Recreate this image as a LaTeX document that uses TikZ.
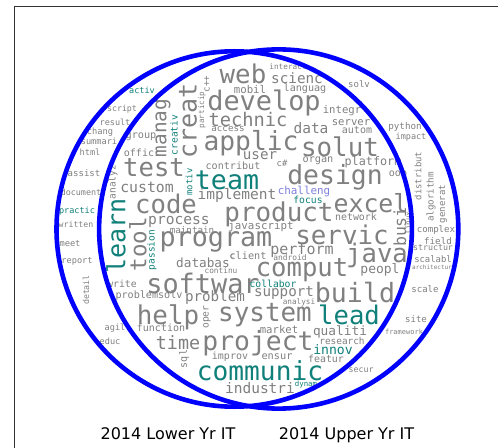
\documentclass[tikz,border=0pt]{standalone}
\usepackage{fontspec}
\setmainfont{DejaVu Sans}
\newfontfamily\wmono{DejaVu Sans Mono}
\definecolor{wgray}{RGB}{128,128,128}
\definecolor{wteal}{RGB}{16,128,122}
\definecolor{wpurp}{RGB}{128,128,222}
\definecolor{vblue}{RGB}{0,0,255}
\tikzset{
  wg/.style={inner sep=0pt, text=wgray, font={\wmono\fontsize{#1bp}{#1bp}\selectfont}},
  wt/.style={wg=#1, text=wteal},
  wp/.style={wg=#1, text=wpurp},
  vert/.style={rotate=90},
  venn/.style={draw=vblue, line width=4.6bp},
  setlabel/.style={inner sep=0pt, anchor=base, font={\fontsize{16bp}{16bp}\selectfont}}
}
\begin{document}
\begin{tikzpicture}[x=1bp,y=-1bp]
\useasboundingbox (0,0) rectangle (498,448);
\fill[white] (0,0) rectangle (498,448);
\draw[line width=1bp, black!80] (14,448) -- (14,7) -- (498,7);
% word cloud
\node[wg=25.8] (w-web) at (243,74) {web};
\node[wg=14.3] (w-scienc) at (297,78) {scienc};
\node[wg=7.7] (w-interact) at (288,67) {interact};
\node[wg=10.7] (w-mobil) at (250,89) {mobil};
\node[wg=10.1] (w-languag) at (305,89) {languag};
\node[wg=9] (w-solv) at (359,84) {solv};
\node[wg=26.9] (w-develop) at (264,103) {develop};
\node[wg=10.6] (w-integr) at (342,111) {integr};
\node[wg=18.7] (w-technic) at (248,120) {technic};
\node[wg=9.2] (w-access) at (228,129) {access};
\node[wg=14.5] (w-data) at (311,128) {data};
\node[wg=10.6] (w-server) at (351,123) {server};
\node[wg=10] (w-autom) at (357,130) {autom};
\node[wg=9.2] (w-python) at (405,127) {python};
\node[wg=8.5] (w-impact) at (411,137) {impact};
\node[wg=26.3] (w-applic) at (251,143) {applic};
\node[wg=25.8] (w-solut) at (340,147) {solut};
\node[wg=14.2] (w-user) at (260,156) {user};
\node[wg=8.9] (w-csharp) at (282,163) {c\#};
\node[wg=10.2] (w-organ) at (318,161) {organ};
\node[wg=11.8] (w-platform) at (373,162) {platform};
\node[wg=10.1] (w-contribut) at (233,166) {contribut};
\node[wg=25.6] (w-test) at (154,168) {test};
\node[wt=26.6] (w-team) at (227,180) {team};
\node[wg=26.4] (w-design) at (335,177) {design};
\node[wg=10] (w-oop) at (398,175) {oop};
\node[wg=8.9,vert] (w-distribut) at (418,176) {distribut};
\node[wg=9.2,vert] (w-algorithm) at (431,197) {algorithm};
\node[wg=9.1,vert] (w-generat) at (443,204) {generat};
\node[wg=14.8] (w-custom) at (147,187) {custom};
\node[wg=14.5] (w-implement) at (237,195) {implement};
\node[wp=10.9] (w-challeng) at (304,192) {challeng};
\node[wt=9.7] (w-focus) at (308,200) {focus};
\node[wg=25.6] (w-code) at (166,204) {code};
\node[wg=24.9] (w-excel) at (371,203) {excel};
\node[wg=25.9] (w-product) at (279,214) {product};
\node[wg=9.9] (w-network) at (356,217) {network};
\node[wg=16.6,vert] (w-busi) at (400,227) {busi};
\node[wg=7.7,vert] (w-linux) at (408,223) {linux};
\node[wg=9.1] (w-complex) at (436,230) {complex};
\node[wg=9.2] (w-field) at (438,241) {field};
\node[wg=8.3] (w-structur) at (433,248) {structur};
\node[wg=8.9] (w-scalabl) at (433,259) {scalabl};
\node[wg=6] (w-architectur) at (432,267) {architectur};
\node[wg=9.1] (w-scale) at (425,289) {scale};
\node[wg=9] (w-site) at (416,319) {site};
\node[wg=7] (w-framework) at (404,332) {framework};
\node[wg=8.3] (w-secur) at (361,370) {secur};
\node[wg=14.6] (w-process) at (179,222) {process};
\node[wg=9.2] (w-maintain) at (192,230) {maintain};
\node[wg=10.8] (w-javascript) at (261,227) {javascript};
\node[wg=25.8] (w-servic) at (342,235) {servic};
\node[wt=25,vert] (w-learn) at (116,236) {learn};
\node[wg=22.5,vert] (w-tool) at (138,244) {tool};
\node[wt=9.5,vert] (w-passion) at (152,250) {passion};
\node[wt=8.9,vert] (w-motiv) at (189,182) {motiv};
\node[wt=9.5,vert] (w-creativ) at (174,135) {creativ};
\node[wg=19.4,vert] (w-manag) at (163,128) {manag};
\node[wg=25,vert] (w-creat) at (188,121) {creat};
\node[wg=7.6,vert] (w-particip) at (202,110) {particip};
\node[wg=9.2,vert] (w-cpp) at (207,84) {c++};
\node[wg=9.5,vert] (w-analyz) at (113,182) {analyz};
\node[wg=26.7] (w-program) at (216,242) {program};
\node[wg=15] (w-perform) at (302,250) {perform};
\node[wg=25.6] (w-java) at (377,255) {java};
\node[wg=10.2] (w-client) at (248,256) {client};
\node[wg=7.9] (w-android) at (290,258) {android};
\node[wg=12.7] (w-databas) at (203,263) {databas};
\node[wg=7] (w-c) at (232,257) {c};
\node[wg=7.8] (w-continu) at (221,271) {continu};
\node[wg=25.6] (w-comput) at (302,270) {comput};
\node[wg=13] (w-peopl) at (380,270) {peopl};
\node[wg=26.9] (w-softwar) at (203,283) {softwar};
\node[wt=9.7] (w-collabor) at (273,284) {collabor};
\node[wg=26.6] (w-build) at (355,293) {build};
\node[wg=9.8] (w-write) at (122,284) {write};
\node[wg=8.3,vert] (w-detail) at (86,290) {detail};
\node[wg=10.1] (w-problemsolv) at (149,296) {problemsolv};
\node[wg=14.2] (w-problem) at (215,298) {problem};
\node[wg=14.2] (w-support) at (284,293) {support};
\node[wg=7.7] (w-analysi) at (299,302) {analysi};
\node[wg=25.9] (w-help) at (168,317) {help};
\node[wg=9.6,vert] (w-oper) at (207,317) {oper};
\node[wg=25.9] (w-system) at (265,315) {system};
\node[wt=25.6] (w-lead) at (349,315) {lead};
\node[wg=8.6] (w-agil) at (115,328) {agil};
\node[wg=10] (w-function) at (161,328) {function};
\node[wg=10.6] (w-market) at (279,330) {market};
\node[wg=12.8] (w-qualiti) at (340,332) {qualiti};
\node[wg=9.4] (w-research) at (342,341) {research};
\node[wg=8.6] (w-educ) at (110,341) {educ};
\node[wg=18.4] (w-time) at (178,343) {time};
\node[wg=26.4] (w-project) at (258,343) {project};
\node[wt=13.1] (w-innov) at (333,350) {innov};
\node[wg=10,vert] (w-sql) at (184,359) {sql};
\node[wg=10] (w-improv) at (230,357) {improv};
\node[wg=10.3] (w-ensur) at (277,357) {ensur};
\node[wg=9.9] (w-featur) at (326,359) {featur};
\node[wt=26.2] (w-communic) at (260,371) {communic};
\node[wg=14.5] (w-industri) at (260,388) {industri};
\node[wt=7.4] (w-dynam) at (306,384) {dynam};
\node[wt=8.5] (w-activ) at (142,90) {activ};
\node[wg=8.3] (w-script) at (122,109) {script};
\node[wg=8.5] (w-result) at (115,122) {result};
\node[wg=8.7] (w-chang) at (100,132) {chang};
\node[wg=8.6] (w-summari) at (99,141) {summari};
\node[wg=10.2] (w-group) at (141,137) {group};
\node[wg=10] (w-offic) at (139,153) {offic};
\node[wg=8.6] (w-html) at (90,152) {html};
\node[wg=9] (w-assist) at (84,173) {assist};
\node[wg=8.4] (w-document) at (81,192) {document};
\node[wt=8.5] (w-practic) at (77,211) {practic};
\node[wg=8.2] (w-written) at (76,224) {written};
\node[wg=8.7] (w-meet) at (70,244) {meet};
\node[wg=8.6] (w-report) at (77,261) {report};
% venn circles
\draw[venn] (234.2,229) circle[radius=177.7];
\draw[venn] (278.7,229) circle[radius=179.6];
% set labels
\node[setlabel] (lab-lower) at (168,439) {2014 Lower Yr IT};
\node[setlabel] (lab-upper) at (346.5,439) {2014 Upper Yr IT};
\end{tikzpicture}
\end{document}
